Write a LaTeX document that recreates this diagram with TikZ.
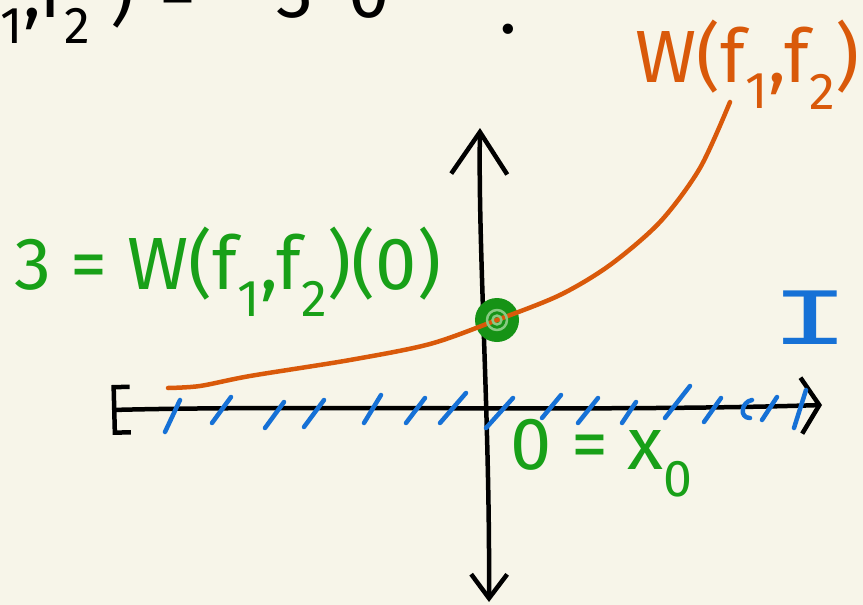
\documentclass[tikz,border=0pt]{standalone}
\usepackage{fontspec}
\setmainfont{Fira Sans}
\newfontfamily\monoink{Liberation Mono}
\usepackage{xcolor}
\usepackage{tikz}
\usetikzlibrary{arrows.meta,calc}
\definecolor{paper}{HTML}{F7F5E9}
\definecolor{inkgreen}{HTML}{18A018}
\definecolor{inkorange}{HTML}{D9590A}
\definecolor{inkblue}{HTML}{1671D6}

\begin{document}
\begin{tikzpicture}[x=1pt, y=-1pt, line cap=round, line join=round,
  ink/.style={line width=4.5pt},
  big/.style={inner sep=0pt, font=\fontsize{74}{80}\selectfont}]
  % Paper
  \fill[paper] (0,0) rectangle (863,605);
  \useasboundingbox (0,0) rectangle (863,605);

  % Line cut off at the top
  \node[big, anchor=base west] (topeq) at (-110,17)
    {W(f\textsubscript{1},f\textsubscript{2}\hspace{20pt})\hspace{25pt}=\hspace{80pt}3\hspace{35pt}0\hspace{110pt}\raisebox{-16pt}{.}};

  % Axes
  \coordinate (ytop) at (480,128);
  \coordinate (ybot) at (489,602);
  \coordinate (xleft) at (112,410);
  \coordinate (xright) at (822,405);
  \draw[ink, {Straight Barb[length=24pt,width=36pt]}-{Straight Barb[length=42pt,width=56pt]}]
    (ybot) .. controls (490,420) and (478,250) .. (ytop);
  \draw[ink, {Bracket[width=50pt,length=16pt]}-{Straight Barb[length=18pt,width=56pt]}]
    (xleft) .. controls (300,405) and (600,412) .. (xright);

  % Interval hatching
  \foreach \bx/\by/\tx/\ty in {165/432/180/400, 212/423/231/397, 265/428/284/402,
      304/427/324/400, 364/423/381/395, 406/423/425/398, 440/423/466/393,
      486/428/513/398, 542/418/561/395, 578/423/598/398, 622/423/636/402,
      665/418/690/386, 704/422/721/398, 762/420/777/397, 794/428/806/390}
    \draw[ink, inkblue] (\bx,\by) -- (\tx,\ty);
  \draw[ink, inkblue] (752,400) .. controls (741,402) and (739,418) .. (750,418);

  % Point at x0
  \node[circle, fill=inkgreen!92!black, minimum size=44pt, inner sep=0pt] (pt) at (497,320) {};

  % Wronskian curve
  \draw[ink, inkorange] plot[smooth] coordinates {(168,388) (200,386) (250,376) (350,360)
    (430,344) (pt) (560,295) (610,265) (660,222) (700,168) (730,102)};
  \draw[line width=2.5pt, inkgreen!50!paper] (pt) circle (10pt) (pt) circle (4.5pt);

  % Labels
  \node[big, text=inkorange, anchor=north east] (wlabel) at (860,20) {W(f\textsubscript{1},f\textsubscript{2})};
  \node[big, text=inkgreen, anchor=west] (wzero) at (14,272) {3 = W(f\textsubscript{1},f\textsubscript{2})(0)};
  \node[big, text=inkgreen, anchor=west] (xzero) at (510,458) {0 = x\textsubscript{0}};
  \node[big, text=inkblue] (interval) at (810,318) {\monoink\scalebox{1.8}[1.1]{I}};
\end{tikzpicture}
\end{document}
